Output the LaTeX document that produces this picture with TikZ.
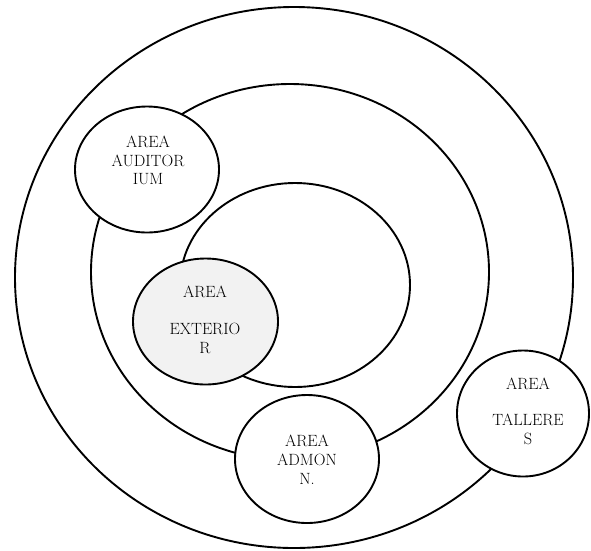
\documentclass[tikz,border=0pt]{standalone}
\usetikzlibrary{shapes.geometric}
\definecolor{exfill}{HTML}{F2F2F2}
\begin{document}
\begin{tikzpicture}[x=1pt,y=-1pt,
  ring/.style={ellipse, draw=black, line width=1.9pt, inner sep=0pt},
  area/.style={ellipse, draw=black, fill=white, line width=1.9pt, inner sep=0pt},
  lbl/.style={align=center, inner sep=0pt, text=black,
    font=\fontsize{16.3}{18.8}\selectfont}]
\useasboundingbox (0,0) rectangle (591,550);
% concentric zones
\node[ring, minimum width=558pt, minimum height=541pt] (outer) at (294,277.5) {};
\node[ring, minimum width=398pt, minimum height=376pt] (middle) at (290,272) {};
\node[ring, minimum width=230pt, minimum height=204pt] (inner) at (295,285) {};
% areas
\node[area, minimum width=144pt, minimum height=126pt] (aud) at (147,169.5) {};
\node[area, fill=exfill, minimum width=145pt, minimum height=126pt] (ext) at (205.5,321.5) {};
\node[area, minimum width=144pt, minimum height=128pt] (adm) at (307,459) {};
\node[area, minimum width=132pt, minimum height=126pt] (tal) at (523,413.5) {};
% labels
\node[lbl] (audtxt) at (148,160.5) {AREA\\AUDITOR\\IUM};
\node[lbl] (exttxt) at (205,320) {AREA\\[18.5pt]EXTERIO\\R};
\node[lbl] (admtxt) at (307,459.5) {AREA\\ADMON\\N.};
\node[lbl] (taltxt) at (528,411.5) {AREA\\[17pt]TALLERE\\S};
\end{tikzpicture}
\end{document}
